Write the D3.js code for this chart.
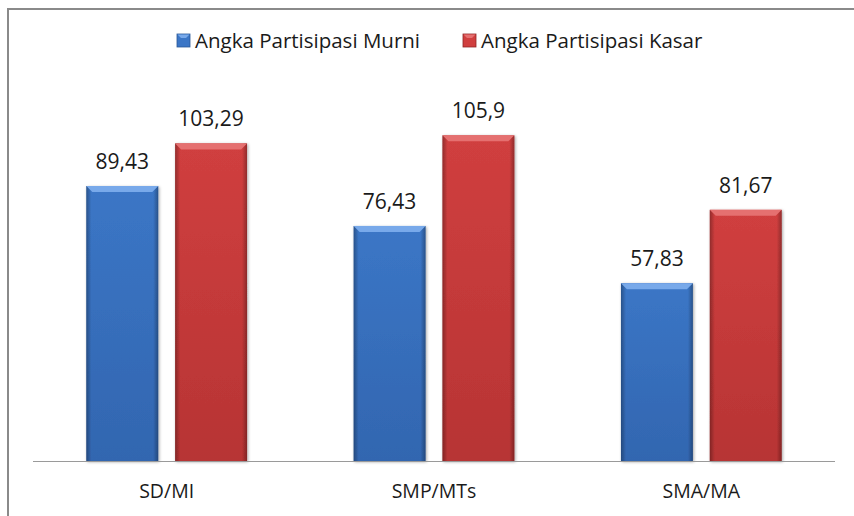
<!DOCTYPE html>
<html>
<head>
<meta charset="utf-8">
<script src="https://cdn.jsdelivr.net/npm/d3@7"></script>
<style>
  body { margin: 0; background: #fff; }
  svg { display: block; font-family: "Open Sans", sans-serif; }
</style>
</head>
<body>
<div id="chart"></div>
<script>
var categories = ["SD/MI", "SMP/MTs", "SMA/MA"];
var seriesNames = ["Angka Partisipasi Murni", "Angka Partisipasi Kasar"];
var murni = [89.43, 76.43, 57.83];
var kasar = [103.29, 105.9, 81.67];

var width = 854, height = 516;
var fontFam = "'Open Sans', sans-serif";

var svg = d3.select("#chart").append("svg")
  .attr("width", width)
  .attr("height", height);

// chart frame (runs off the picture on the right and bottom)
svg.append("rect")
  .attr("x", 8).attr("y", 9)
  .attr("width", width + 20).attr("height", height + 20)
  .attr("fill", "#fff")
  .attr("stroke", "#8a8a8a")
  .attr("stroke-width", 2);

var colors = [
  { dark: "#2a5896", body: "#3b76c6", light: "#78a9ea", bottom: "#3266b0" },
  { dark: "#8e2626", body: "#d03f3f", light: "#e57070", bottom: "#b73434" }
];

var defs = svg.append("defs");
colors.forEach(function(c, i) {
  var gv = defs.append("linearGradient").attr("id", "vg" + i)
    .attr("x1", 0).attr("y1", 0).attr("x2", 0).attr("y2", 1);
  gv.append("stop").attr("offset", "0%").attr("stop-color", c.body);
  gv.append("stop").attr("offset", "100%").attr("stop-color", c.bottom);
  var gh = defs.append("linearGradient").attr("id", "hg" + i)
    .attr("x1", 0).attr("y1", 0).attr("x2", 1).attr("y2", 0);
  gh.append("stop").attr("offset", "0%").attr("stop-color", "#000").attr("stop-opacity", 0.3);
  gh.append("stop").attr("offset", "7%").attr("stop-color", "#000").attr("stop-opacity", 0);
  gh.append("stop").attr("offset", "93%").attr("stop-color", "#000").attr("stop-opacity", 0);
  gh.append("stop").attr("offset", "100%").attr("stop-color", "#000").attr("stop-opacity", 0.3);
});
var sh = defs.append("filter").attr("id", "shadow")
  .attr("x", "-20%").attr("y", "-10%").attr("width", "140%").attr("height", "120%");
sh.append("feDropShadow").attr("dx", 1).attr("dy", 1).attr("stdDeviation", 1.5)
  .attr("flood-color", "#000").attr("flood-opacity", 0.35);

var x0 = d3.scaleBand().domain(categories).range([33, 835]);
var x1 = d3.scaleBand().domain(seriesNames).range([0, x0.bandwidth()])
  .paddingInner(0.19).paddingOuter(0.6);
var y = d3.scaleLinear().domain([0, 120]).range([461, 92]);

var rows = categories.map(function(c, i) {
  return { cat: c, values: [murni[i], kasar[i]] };
});

var groups = svg.selectAll("g.cat").data(rows).enter().append("g")
  .attr("class", "cat")
  .attr("transform", function(d) { return "translate(" + x0(d.cat) + ",0)"; });

groups.each(function(d) {
  var g = d3.select(this);
  d.values.forEach(function(v, i) {
    var bx = x1(seriesNames[i]), bw = x1.bandwidth();
    var top = y(v), h = y(0) - y(v);
    var c = colors[i];
    var bar = g.append("g").attr("filter", "url(#shadow)");
    bar.append("rect").attr("x", bx).attr("y", top).attr("width", bw).attr("height", h)
      .attr("fill", "url(#vg" + i + ")");
    bar.append("rect").attr("x", bx).attr("y", top).attr("width", bw).attr("height", h)
      .attr("fill", "url(#hg" + i + ")");
    var bev = 6;
    bar.append("path")
      .attr("d", "M" + bx + "," + top + "L" + (bx + bw) + "," + top +
        "L" + (bx + bw - bev) + "," + (top + bev) + "L" + (bx + bev) + "," + (top + bev) + "Z")
      .attr("fill", c.light);
    g.append("text")
      .attr("x", bx + bw / 2)
      .attr("y", top - 17)
      .attr("text-anchor", "middle")
      .attr("font-size", 21)
      .attr("fill", "#1a1a1a")
      .text(String(v).replace(".", ","));
  });
});

// baseline
svg.append("line")
  .attr("x1", 33).attr("x2", 835)
  .attr("y1", y(0) + 0.5).attr("y2", y(0) + 0.5)
  .attr("stroke", "#9a9a9a").attr("stroke-width", 1);

// category labels
var xAxis = d3.axisBottom(x0).tickSize(0).tickPadding(0);
var ax = svg.append("g").attr("transform", "translate(0," + y(0) + ")").call(xAxis);
ax.select(".domain").remove();
ax.selectAll("text")
  .attr("y", 37).attr("dy", 0)
  .attr("font-size", 19.5)
  .attr("font-family", fontFam)
  .attr("fill", "#1a1a1a");

// legend
var legendX = [177, 463];
seriesNames.forEach(function(name, i) {
  var lg = svg.append("g").attr("transform", "translate(" + legendX[i] + ",34)");
  lg.append("rect").attr("x", 0).attr("y", 0).attr("width", 13).attr("height", 13)
    .attr("fill", colors[i].body).attr("stroke", colors[i].dark).attr("stroke-width", 0.8);
  lg.append("path").attr("d", "M0.5,0.5L12.5,0.5L9,4L4,4Z").attr("fill", colors[i].light);
  lg.append("text").attr("x", 18).attr("y", 14)
    .attr("font-size", 20.5).attr("fill", "#1a1a1a").text(name);
});
</script>
</body>
</html>
